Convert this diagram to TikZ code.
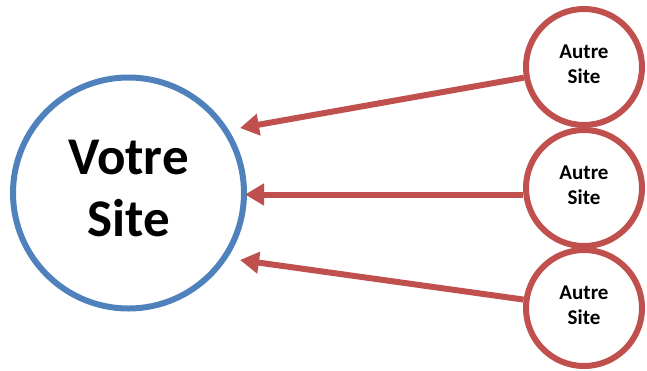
\documentclass[tikz,border=0pt]{standalone}
\usepackage{fontspec}
\setmainfont{Carlito}
\usetikzlibrary{arrows.meta}
\definecolor{ablue}{HTML}{4F81BD}
\definecolor{ared}{HTML}{C0504D}
\begin{document}
\begin{tikzpicture}[x=1pt,y=-1pt,
  mainsite/.style={circle,draw=ablue,line width=6pt,minimum size=231pt,inner sep=0pt},
  maintext/.style={align=center,inner sep=0pt,font=\bfseries\fontsize{53}{62}\selectfont},
  othersite/.style={circle,draw=ared,line width=6pt,minimum size=116pt,inner sep=0pt},
  othertext/.style={align=center,inner sep=0pt,font=\bfseries\fontsize{21}{25}\selectfont},
  link/.style={draw=ared,line width=6pt,-{Triangle[length=19pt,width=21pt]}}]
\useasboundingbox (0,0) rectangle (647,370);
\node[mainsite] (main) at (128.5,193) {};
\node[maintext] (maintxt) at ([yshift=4pt]main.center) {Votre\\Site};
\node[othersite] (s1) at (584,67) {};
\node[othersite] (s2) at (584,188) {};
\node[othersite] (s3) at (584,308) {};
\node[othertext] (l1) at ([yshift=3pt]s1.center) {Autre\\Site};
\node[othertext] (l2) at ([yshift=3pt]s2.center) {Autre\\Site};
\node[othertext] (l3) at ([yshift=3pt]s3.center) {Autre\\Site};
\coordinate (t1) at (240,128);
\coordinate (t2) at (245,194.5);
\coordinate (t3) at (240,260);
\draw[link] (s1) -- (t1);
\draw[link] (s2.west |- t2) -- (t2);
\draw[link] (s3) -- (t3);
\end{tikzpicture}
\end{document}
